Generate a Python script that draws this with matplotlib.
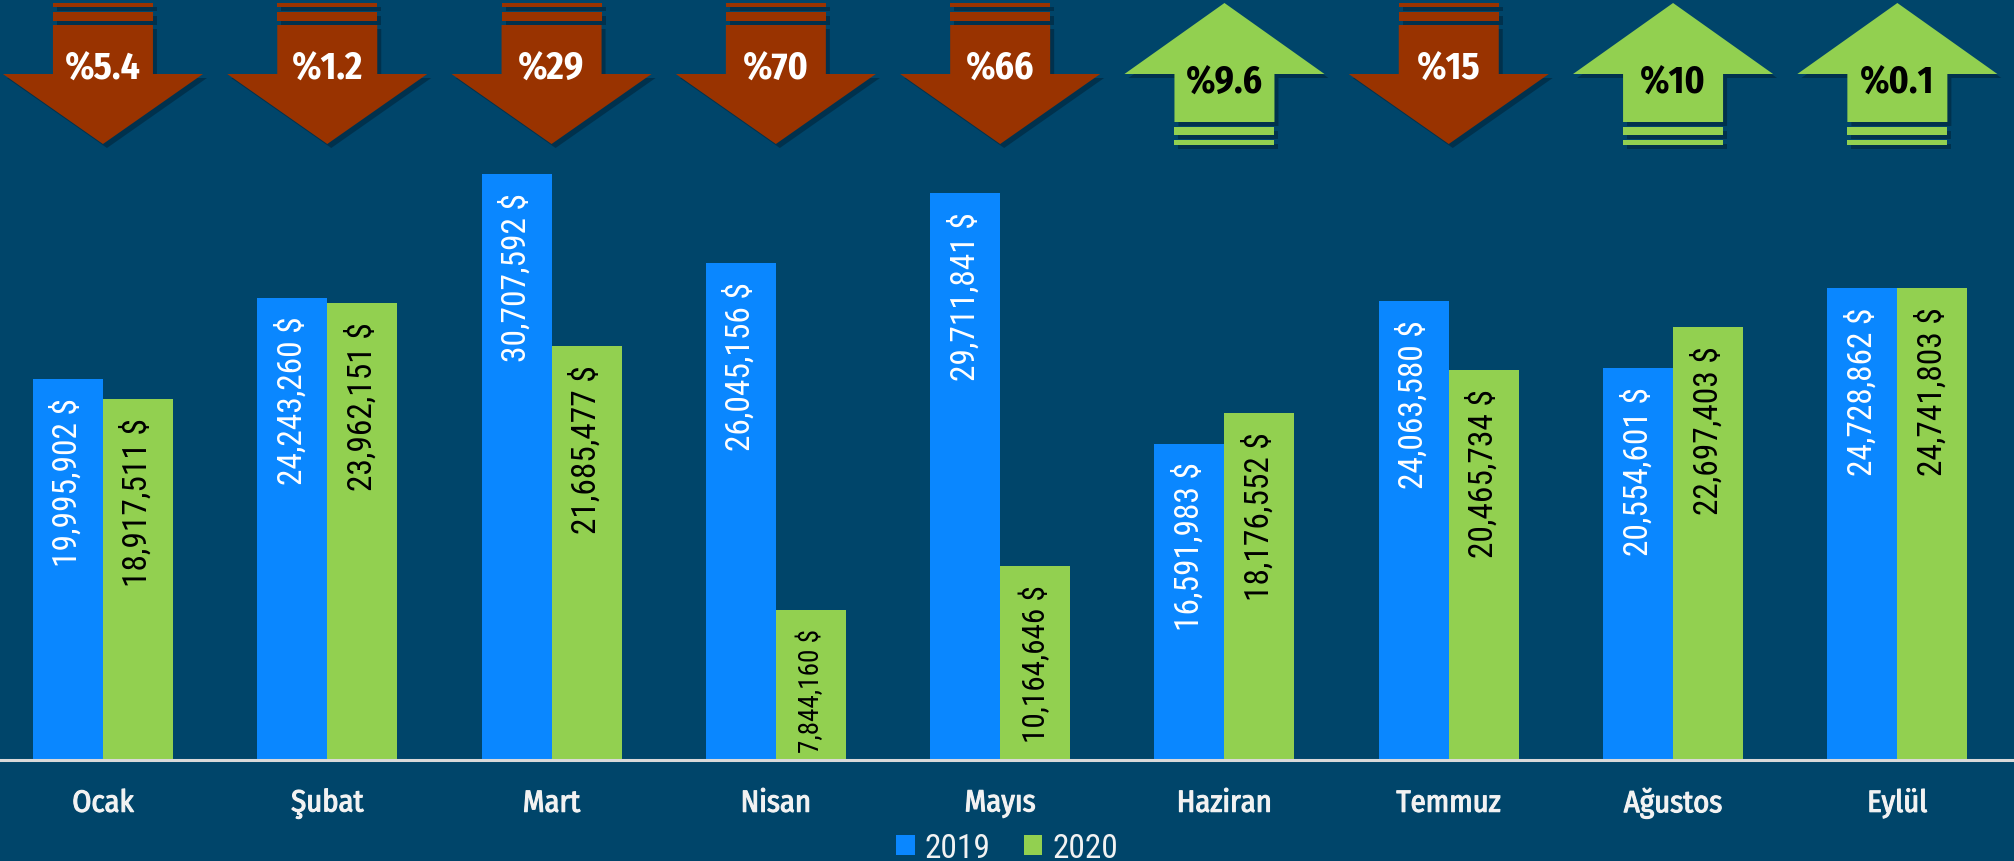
import matplotlib
matplotlib.use("Agg")
import matplotlib.pyplot as plt
import matplotlib.transforms as mtransforms
import matplotlib.patheffects as pe
from matplotlib.patches import Polygon, Rectangle
import numpy as np

# --- Data ---
months    = ["Ocak", "Şubat", "Mart", "Nisan", "Mayıs", "Haziran", "Temmuz", "Ağustos", "Eylül"]
vals_2019 = [19995902, 24243260, 30707592, 26045156, 29711841, 16591983, 24063580, 20554601, 24728862]
vals_2020 = [18917511, 23962151, 21685477, 7844160, 10164646, 18176552, 20465734, 22697403, 24741803]
pct_labels = ["%5.4", "%1.2", "%29", "%70", "%66", "%9.6", "%15", "%10", "%0.1"]

# --- Style ---
bg      = "#00456A"
c2019   = "#0A87FF"
c2020   = "#92D050"
c_down  = "#993300"
c_text  = "#F2F2F2"
plt.rcParams["font.family"] = ["Fira Sans Condensed", "DejaVu Sans"]
num_font = ["Roboto Condensed", "Fira Sans Condensed", "DejaVu Sans"]

W, H = 2014, 862
fig = plt.figure(figsize=(W / 100, H / 100), dpi=100, facecolor=bg)
ax = fig.add_axes([0, 101 / H, 1, 761 / H])
ax.set_facecolor(bg)

x = np.arange(len(months))
w = 0.312
b1 = ax.bar(x - w / 2, vals_2019, w, color=c2019, label="2019")
b2 = ax.bar(x + w / 2, vals_2020, w, color=c2020, label="2020")

def label_size(v):
    # short bars get slightly smaller labels so they stay inside
    return 24 if v > 12e6 else (22.5 if v > 9e6 else 19.5)

for xi, v in zip(x, vals_2019):
    ax.annotate(f"{v:,} $", (xi - w / 2, v), xytext=(0, -13), textcoords="offset points",
                rotation=90, ha="center", va="top", color="white",
                fontsize=label_size(v), family=num_font)
for xi, v in zip(x, vals_2020):
    ax.annotate(f"{v:,} $", (xi + w / 2, v), xytext=(0, -13), textcoords="offset points",
                rotation=90, ha="center", va="top", color="black",
                fontsize=label_size(v), family=num_font)

ax.set_xlim(-0.459, 8.52)
ax.set_ylim(0, 39.9e6)
for s in ["top", "left", "right"]:
    ax.spines[s].set_visible(False)
ax.spines["bottom"].set_color("#D9D9D9")
ax.spines["bottom"].set_linewidth(2.2)
ax.set_yticks([])
ax.set_xticks(x)
ax.set_xticklabels(months, color=c_text, fontsize=22, fontweight="normal")
for t in ax.get_xticklabels():
    t.set_path_effects([pe.withStroke(linewidth=0.8, foreground=c_text)])
ax.tick_params(axis="x", length=0, pad=20)

# --- Change arrows (shapes in pixels from the top of the axes) ---
down_body = [(-50, 26), (50, 26), (50, 75), (100, 75), (0, 145), (-100, 75), (-50, 75)]
down_bars = [(4, 8), (13, 22)]
up_body   = [(0, 4), (100, 75), (50, 75), (50, 123), (-50, 123), (-50, 75), (-100, 75)]
up_bars   = [(128, 136), (141, 146)]

def add_arrow(xc, up, label):
    base = mtransforms.ScaledTranslation(xc, ax.get_ylim()[1], ax.transData)
    for dx, dy, col, alpha in [(4, 4, "#001a2a", 0.45), (0, 0, None, 1)]:
        tr = mtransforms.Affine2D().scale(1 / 100, -1 / 100).translate(dx / 100, -dy / 100) \
             + fig.dpi_scale_trans + base
        fc = col if col else (c2020 if up else c_down)
        body = up_body if up else down_body
        stripes = up_bars if up else down_bars
        ax.add_patch(Polygon(body, closed=True, fc=fc, ec="none", alpha=alpha,
                             transform=tr, clip_on=False, zorder=3 if col is None else 2))
        for y0, y1 in stripes:
            ax.add_patch(Rectangle((-50, y0), 100, y1 - y0, fc=fc, ec="none", alpha=alpha,
                                   transform=tr, clip_on=False, zorder=3 if col is None else 2))
    ty = 83 if up else 69
    ttr = mtransforms.ScaledTranslation(0, -ty / 100, fig.dpi_scale_trans) + base
    ax.text(0, 0, label, transform=ttr, ha="center", va="center", fontsize=27,
            fontweight="bold", color="black" if up else "white", zorder=4)

for xi, a, b, lab in zip(x, vals_2019, vals_2020, pct_labels):
    add_arrow(xi, b >= a, lab)

fig.legend(handles=[b1, b2], loc="lower center", bbox_to_anchor=(0.5, -0.038), ncol=2,
           frameon=False, labelcolor=c_text, handlelength=0.55, handleheight=0.55,
           handletextpad=0.3, columnspacing=1.0, prop={"family": num_font, "size": 24})

fig.savefig("out.png", dpi=100, facecolor=bg)
